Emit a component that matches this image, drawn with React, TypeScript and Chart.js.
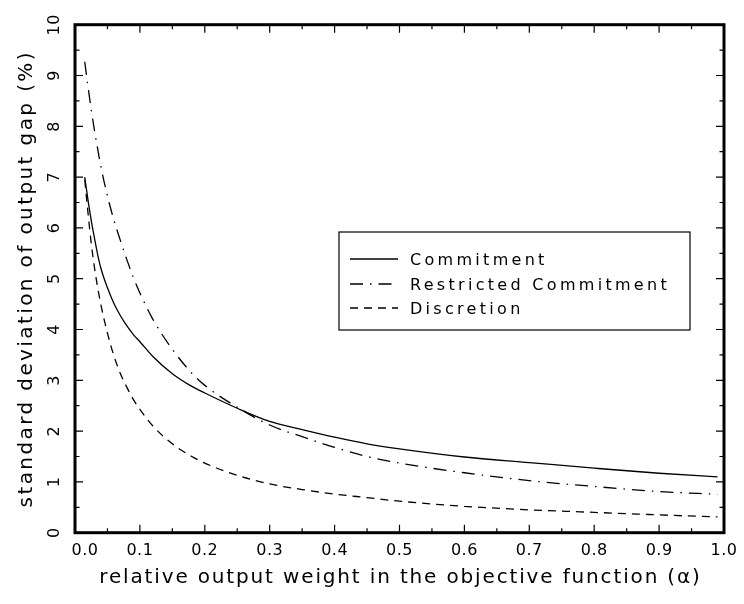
import React, { useEffect, useRef } from "react";
import { Chart, registerables } from "chart.js";

Chart.register(...registerables);

// relative output weight (alpha)
const alpha = [0.015, 0.02, 0.025, 0.03, 0.035, 0.04, 0.05, 0.06, 0.07, 0.08, 0.09, 0.10, 0.12, 0.15, 0.18, 0.20, 0.25, 0.30, 0.35, 0.40, 0.45, 0.50, 0.60, 0.70, 0.80, 0.90, 0.99];
// standard deviation of output gap (%)
const commitment = [7.0, 6.55, 6.15, 5.8, 5.47, 5.2, 4.82, 4.51, 4.27, 4.07, 3.9, 3.76, 3.47, 3.13, 2.88, 2.75, 2.45, 2.19, 2.03, 1.88, 1.75, 1.65, 1.49, 1.38, 1.27, 1.17, 1.10];
const restricted = [9.27, 8.78, 8.33, 7.92, 7.55, 7.2, 6.63, 6.15, 5.75, 5.37, 5.02, 4.72, 4.2, 3.61, 3.14, 2.9, 2.47, 2.12, 1.89, 1.68, 1.5, 1.37, 1.18, 1.025, 0.91, 0.81, 0.756];
const discretion = [6.95, 6.3, 5.7, 5.22, 4.82, 4.48, 3.93, 3.48, 3.13, 2.86, 2.62, 2.43, 2.1, 1.75, 1.5, 1.37, 1.13, 0.96, 0.85, 0.76, 0.69, 0.62, 0.52, 0.45, 0.40, 0.35, 0.31];

const seriesLabels = ["Commitment", "Restricted Commitment", "Discretion"];
const xTickLabels = ["0.0", "0.1", "0.2", "0.3", "0.4", "0.5", "0.6", "0.7", "0.8", "0.9", "1.0"];
const yTickLabels = ["0", "1", "2", "3", "4", "5", "6", "7", "8", "9", "10"];
const xTitle = "relative output weight in the objective function (\u03b1)";
const yTitle = "standard deviation of output gap (%)";

const FONT = "'DejaVu Sans', sans-serif";

function spaced(ctx: CanvasRenderingContext2D, sp: number) {
  try { (ctx as any).letterSpacing = sp + "px"; } catch (e) {}
}

const decorPlugin = {
  id: "decor",
  afterDraw(chart: any) {
    const { ctx, chartArea: a, scales } = chart;
    const xs = scales.x;
    const ys = scales.y;
    ctx.save();
    ctx.strokeStyle = "#000";
    ctx.lineWidth = 1.2;
    ctx.beginPath();
    for (let i = 0; i <= 20; i++) {
      const px = xs.getPixelForValue(i * 0.05);
      const len = i % 2 === 0 ? 8 : 4.5;
      ctx.moveTo(px, a.bottom);
      ctx.lineTo(px, a.bottom - len);
      ctx.moveTo(px, a.top);
      ctx.lineTo(px, a.top + len);
    }
    for (let i = 0; i <= 20; i++) {
      const py = ys.getPixelForValue(i * 0.5);
      const len = i % 2 === 0 ? 8 : 4.5;
      ctx.moveTo(a.left, py);
      ctx.lineTo(a.left + len, py);
      ctx.moveTo(a.right, py);
      ctx.lineTo(a.right - len, py);
    }
    ctx.stroke();
    ctx.lineWidth = 3;
    ctx.strokeRect(a.left, a.top, a.right - a.left, a.bottom - a.top);

    ctx.fillStyle = "#000";

    // x tick labels (first one nudged clear of the y labels)
    ctx.font = "16px " + FONT;
    ctx.textAlign = "center";
    ctx.textBaseline = "middle";
    spaced(ctx, 0.5);
    xTickLabels.forEach((lab, i) => {
      const px = xs.getPixelForValue(Number(lab)) + (i === 0 ? 10 : 0);
      ctx.fillText(lab, px, 551);
    });

    // rotated y tick labels
    yTickLabels.forEach((lab) => {
      const py = ys.getPixelForValue(Number(lab));
      ctx.save();
      ctx.translate(55, py);
      ctx.rotate(-Math.PI / 2);
      ctx.fillText(lab, 0, 0);
      ctx.restore();
    });

    // axis titles
    ctx.font = "20px " + FONT;
    ctx.textAlign = "center";
    ctx.textBaseline = "alphabetic";
    spaced(ctx, 1.85);
    ctx.fillText(xTitle, (a.left + a.right) / 2 + 1, 583);
    spaced(ctx, 2.4);
    ctx.save();
    ctx.translate(32, (a.top + a.bottom) / 2);
    ctx.rotate(-Math.PI / 2);
    ctx.fillText(yTitle, 0, 0);
    ctx.restore();

    // legend
    const bx = 339, by = 232, bw = 351, bh = 98;
    ctx.lineWidth = 1.2;
    ctx.strokeRect(bx, by, bw, bh);
    ctx.font = "16px " + FONT;
    ctx.textAlign = "left";
    spaced(ctx, 3.3);
    const rows = [259, 284, 308];
    chart.data.datasets.forEach((ds: any, i: number) => {
      const y = rows[i];
      ctx.save();
      ctx.lineWidth = ds.borderWidth;
      ctx.setLineDash(ds.borderDash || []);
      ctx.beginPath();
      ctx.moveTo(350, y);
      ctx.lineTo(398, y);
      ctx.stroke();
      ctx.restore();
      ctx.fillText(ds.label, 410, y + 6);
    });
    spaced(ctx, 0);
    ctx.restore();
  },
};

export default function App() {
  const ref = useRef<HTMLCanvasElement>(null);
  useEffect(() => {
    if (!ref.current) return;
    const mk = (vals: number[]) => alpha.map((x, i) => ({ x, y: vals[i] }));
    const chart = new Chart(ref.current, {
      type: "line",
      data: {
        datasets: [
          { label: seriesLabels[0], data: mk(commitment), borderColor: "#000", borderWidth: 1.3, borderDash: [], pointRadius: 0, cubicInterpolationMode: "monotone", fill: false },
          { label: seriesLabels[1], data: mk(restricted), borderColor: "#000", borderWidth: 1.3, borderDash: [13, 7, 1.5, 7], pointRadius: 0, cubicInterpolationMode: "monotone", fill: false },
          { label: seriesLabels[2], data: mk(discretion), borderColor: "#000", borderWidth: 1.3, borderDash: [8, 6], pointRadius: 0, cubicInterpolationMode: "monotone", fill: false },
        ],
      },
      options: {
        responsive: false,
        animation: false,
        events: [],
        layout: { padding: { left: 0, top: 24.7, right: 20, bottom: 0 } },
        plugins: { legend: { display: false }, tooltip: { enabled: false } },
        scales: {
          x: {
            type: "linear",
            min: 0,
            max: 1,
            grid: { display: false, drawTicks: false },
            border: { display: false },
            ticks: { display: false, stepSize: 0.1 },
            afterFit: (s: any) => { s.height = 604 - 532.7; },
          },
          y: {
            type: "linear",
            min: 0,
            max: 10,
            grid: { display: false, drawTicks: false },
            border: { display: false },
            ticks: { display: false, stepSize: 1 },
            afterFit: (s: any) => { s.width = 75; },
          },
        },
      },
      plugins: [decorPlugin],
    } as any);
    return () => chart.destroy();
  }, []);
  return (
    <div style={{ position: "fixed", left: 0, top: 0, width: 744, height: 604, background: "#fff" }}>
      <canvas ref={ref} width={744} height={604} style={{ display: "block" }} />
    </div>
  );
}
